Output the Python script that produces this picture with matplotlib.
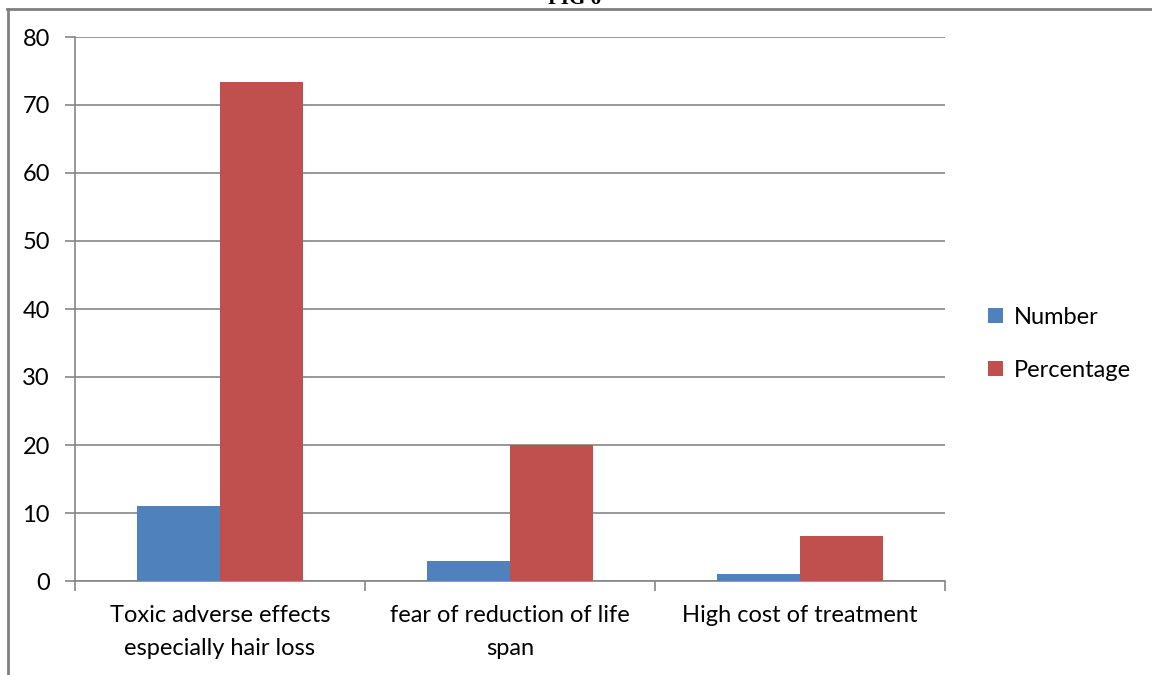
import matplotlib.pyplot as plt
import numpy as np
from matplotlib.lines import Line2D

plt.rcParams['font.family'] = ['Lato', 'DejaVu Sans']

categories = ["Toxic adverse effects\nespecially hair loss",
              "fear of reduction of life\nspan",
              "High cost of treatment"]
number = [11, 3, 1]
percentage = [73.33, 20, 6.67]
yticks = [0, 10, 20, 30, 40, 50, 60, 70, 80]

W, H = 1152, 675
fig = plt.figure(figsize=(W / 100, H / 100), dpi=100)
ax = fig.add_axes([75 / W, 1 - 581 / H, 870 / W, 544 / H])

x = np.arange(len(categories))
bw = 0.286
ax.bar(x - bw / 2, number, bw, color='#4F81BD', label='Number', zorder=3)
ax.bar(x + bw / 2, percentage, bw, color='#C0504D', label='Percentage', zorder=3)

grid = '#868686'
ax.set_xlim(-0.5, len(categories) - 0.5)
ax.set_ylim(0, 80)
ax.set_yticks(yticks)
ax.yaxis.grid(True, color=grid, lw=1.2, zorder=0)
ax.tick_params(axis='y', length=7, color=grid, width=1.2, labelsize=17, pad=11)

ax.set_xticks(x)
ax.set_xticklabels(categories, fontsize=17, linespacing=1.75)
ax.set_xticks(np.arange(len(categories) + 1) - 0.5, minor=True)
ax.tick_params(axis='x', which='major', length=0, pad=17)
ax.tick_params(axis='x', which='minor', length=7, color=grid, width=1.2)

for s in ['top', 'right']:
    ax.spines[s].set_visible(False)
for s in ['left', 'bottom']:
    ax.spines[s].set_color(grid)
    ax.spines[s].set_linewidth(1.2)

ax.legend(loc='center left', bbox_to_anchor=(1.025, 0.436), frameon=False,
          fontsize=17, handlelength=0.65, handleheight=0.65, handletextpad=0.45,
          labelspacing=1.35)

# surrounding frame (top and left edges)
fig.add_artist(Line2D([7 / W, 1], [1 - 8.5 / H, 1 - 8.5 / H], color='#808080', lw=2))
fig.add_artist(Line2D([8 / W, 8 / W], [0, 1 - 8.5 / H], color='#808080', lw=2))

fig.text(575 / W, 1 - 4 / H, 'FIG 6', ha='center', va='baseline',
         family='Liberation Serif', weight='bold', fontsize=15)

fig.savefig('out.png', dpi=100, facecolor='white')
